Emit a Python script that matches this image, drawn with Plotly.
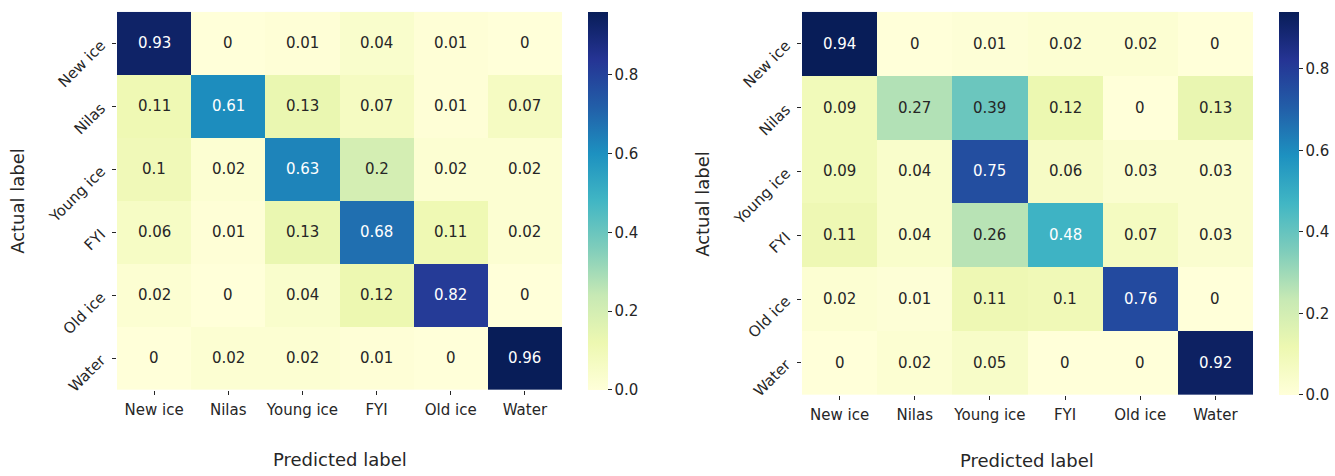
import plotly.graph_objects as go

classes = ["New ice", "Nilas", "Young ice", "FYI", "Old ice", "Water"]

# Row = actual class, column = predicted class (row-normalised)
cm_left = [
    [0.93, 0.00, 0.01, 0.04, 0.01, 0.00],
    [0.11, 0.61, 0.13, 0.07, 0.01, 0.07],
    [0.10, 0.02, 0.63, 0.20, 0.02, 0.02],
    [0.06, 0.01, 0.13, 0.68, 0.11, 0.02],
    [0.02, 0.00, 0.04, 0.12, 0.82, 0.00],
    [0.00, 0.02, 0.02, 0.01, 0.00, 0.96],
]
cm_right = [
    [0.94, 0.00, 0.01, 0.02, 0.02, 0.00],
    [0.09, 0.27, 0.39, 0.12, 0.00, 0.13],
    [0.09, 0.04, 0.75, 0.06, 0.03, 0.03],
    [0.11, 0.04, 0.26, 0.48, 0.07, 0.03],
    [0.02, 0.01, 0.11, 0.10, 0.76, 0.00],
    [0.00, 0.02, 0.05, 0.00, 0.00, 0.92],
]

ylgnbu = ["#ffffd9", "#edf8b1", "#c7e9b4", "#7fcdbb", "#41b6c4",
          "#1d91c0", "#225ea8", "#253494", "#081d58"]
colorscale = [[i / (len(ylgnbu) - 1), c] for i, c in enumerate(ylgnbu)]

W, H = 1335, 476
TXT = "#262626"
FONT = "DejaVu Sans"


def hex_rgb(h):
    return tuple(int(h[i:i + 2], 16) / 255 for i in (1, 3, 5))


def cell_color(t):
    t = min(max(t, 0.0), 1.0)
    n = len(ylgnbu) - 1
    i = min(int(t * n), n - 1)
    f = t * n - i
    a, b = hex_rgb(ylgnbu[i]), hex_rgb(ylgnbu[i + 1])
    return tuple(a[k] + (b[k] - a[k]) * f for k in range(3))


def luminance(rgb):
    def ch(c):
        return c / 12.92 if c <= 0.03928 else ((c + 0.055) / 1.055) ** 2.4
    r, g, b = (ch(c) for c in rgb)
    return 0.2126 * r + 0.7152 * g + 0.0722 * b


def px_x(p):
    return p / W


def px_y(p):
    return 1 - p / H


panels = [
    dict(z=cm_left, x0=117, x1=562, y0=12, y1=394, cb=588, xa="x", ya="y"),
    dict(z=cm_right, x0=802, x1=1253, y0=12, y1=399, cb=1279, xa="x2", ya="y2"),
]

fig = go.Figure()
annotations = []
for p in panels:
    z = p["z"]
    zmax = max(max(r) for r in z)
    zmin = min(min(r) for r in z)
    fig.add_trace(go.Heatmap(
        z=z, x=classes, y=classes, xaxis=p["xa"], yaxis=p["ya"],
        colorscale=colorscale, zmin=zmin, zmax=zmax,
        hoverongaps=False,
        colorbar=dict(
            x=px_x(p["cb"]), xanchor="left", xpad=0,
            y=px_y(p["y0"]), yanchor="top", ypad=0,
            len=(p["y1"] - p["y0"]) / H, lenmode="fraction",
            thickness=20, outlinewidth=0,
            tickvals=[0, 0.2, 0.4, 0.6, 0.8],
            ticktext=["0.0", "0.2", "0.4", "0.6", "0.8"],
            ticks="outside", ticklen=4, tickcolor=TXT,
            tickfont=dict(family=FONT, size=15, color=TXT),
        ),
    ))
    for i, row in enumerate(z):
        for j, v in enumerate(row):
            t = (v - zmin) / (zmax - zmin)
            col = "white" if luminance(cell_color(t)) < 0.408 else TXT
            annotations.append(dict(
                x=classes[j], y=classes[i], xref=p["xa"], yref=p["ya"],
                text=f"{v:g}", showarrow=False,
                font=dict(family=FONT, size=15, color=col),
            ))

axis_common = dict(
    type="category", showgrid=False, zeroline=False, showline=False,
    ticks="outside", ticklen=4, tickcolor=TXT,
    tickfont=dict(family=FONT, size=15, color=TXT),
)

fig.update_layout(
    width=W, height=H,
    margin=dict(l=0, r=0, t=0, b=0),
    paper_bgcolor="white", plot_bgcolor="white",
    font=dict(family=FONT, color=TXT),
    xaxis=dict(domain=[px_x(117), px_x(562)], anchor="y",
               ticklabelstandoff=2, **axis_common),
    yaxis=dict(domain=[px_y(394), px_y(12)], anchor="x", autorange="reversed",
               tickangle=-45, ticklabelstandoff=8, **axis_common),
    xaxis2=dict(domain=[px_x(802), px_x(1253)], anchor="y2",
                ticklabelstandoff=2, **axis_common),
    yaxis2=dict(domain=[px_y(399), px_y(12)], anchor="x2", autorange="reversed",
                tickangle=-45, ticklabelstandoff=8, **axis_common),
)

# Axis titles
titles = [
    dict(text="Predicted label", x=px_x(340), y=px_y(464), textangle=0),
    dict(text="Predicted label", x=px_x(1027), y=px_y(465), textangle=0),
    dict(text="Actual label", x=px_x(18), y=px_y(203), textangle=-90),
    dict(text="Actual label", x=px_x(703), y=px_y(206), textangle=-90),
]
for t in titles:
    annotations.append(dict(
        text=t["text"], x=t["x"], y=t["y"], xref="paper", yref="paper",
        xanchor="center", yanchor="middle", showarrow=False,
        textangle=t["textangle"],
        font=dict(family=FONT, size=18, color=TXT),
    ))

fig.update_layout(annotations=annotations)
fig.write_html("out.html")
